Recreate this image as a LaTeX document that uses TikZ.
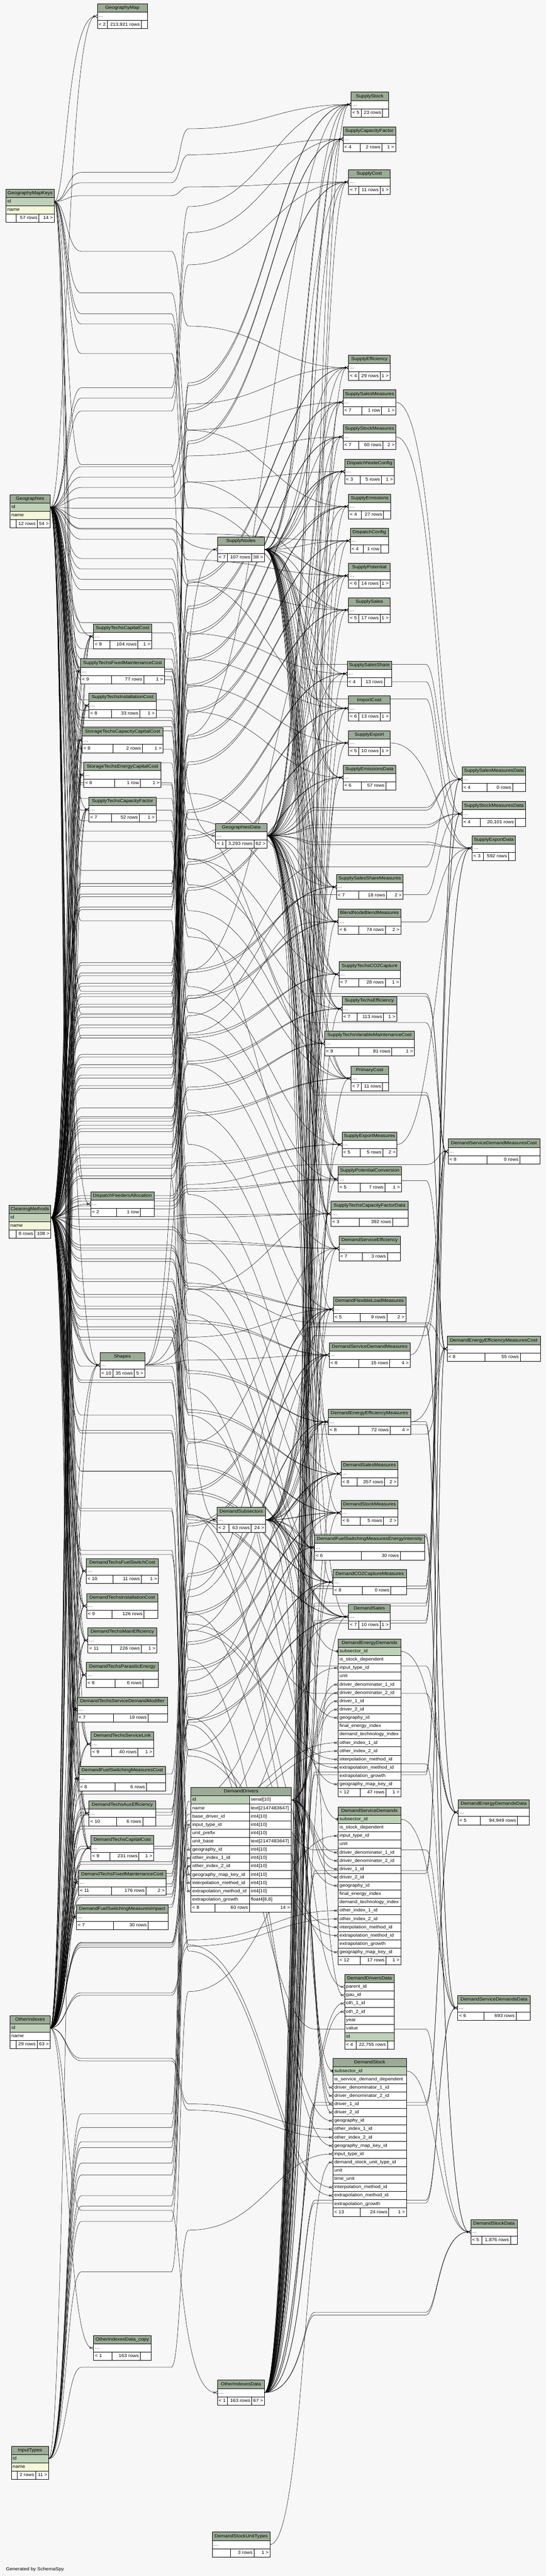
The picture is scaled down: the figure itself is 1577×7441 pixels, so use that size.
\documentclass[tikz,border=0pt]{standalone}
\usepackage{fontspec}
\setmainfont{Liberation Sans}
\usepackage{graphicx}
\usetikzlibrary{arrows.meta, calc}

\definecolor{hdrfill}{HTML}{9BAB96}
\definecolor{keyfill}{HTML}{BED1B8}
\definecolor{uqfill}{HTML}{F4F7DA}
\definecolor{bgfill}{HTML}{F7F7F7}

\pgfdeclarelayer{bg}
\pgfdeclarelayer{links}
\pgfsetlayers{bg,links,main}

% text in the cells is set a little wide like the dot output
\newcommand{\celltxt}[1]{\scalebox{1.1}[1]{#1}}
\newcommand{\more}{.\kern0.5pt.\kern0.5pt.}
\def\dbsplitsep#1/#2\relax{\def\dbsa{#1}\def\dbsb{#2}}
\def\dbsplitfoot#1/#2/#3\relax{\def\dbfa{#1}\def\dbfb{#2}\def\dbfc{#3}}

% footer: name, x0, x1, y, sep1/sep2, left/middle/right text
\newcommand{\dbfoot}[6]{%
  \dbsplitsep#5\relax
  \dbsplitfoot#6\relax
  \pgfmathsetmacro{\dbwa}{\dbsa-#2}%
  \pgfmathsetmacro{\dbwb}{\dbsb-\dbsa}%
  \pgfmathsetmacro{\dbwc}{#3-\dbsb}%
  \node[cell] (#1-fa) at (#2,#4) {\makebox[\dbwa pt][l]{\hspace{4pt}\celltxt{\dbfa}}};
  \node[cell] (#1-fb) at (\dbsa,#4) {\makebox[\dbwb pt][r]{\celltxt{\dbfb}\hspace{4pt}}};
  \node[cell] (#1-fc) at (\dbsb,#4) {\makebox[\dbwc pt][r]{\celltxt{\dbfc}\hspace{4pt}}};
}

% table: name, x0, x1, ytop, title, rows, number of rows, seps, footer
\newcommand{\dbtable}[9]{%
  \pgfmathsetmacro{\dbtw}{#3-#2}%
  \node[cell, fill=hdrfill, minimum width=\dbtw pt] (#1) at (#2,#4) {\makebox[0pt]{\celltxt{#5}}};
  \foreach \fc/\ft [count=\rowno] in {#6} {
    \node[cell, fill=\fc] (#1-\rowno) at (#2,#4+24*\rowno) {\makebox[\dbtw pt][l]{\hspace{4pt}\celltxt{\ft}}};
  }
  \pgfmathsetmacro{\dbfy}{#4+24*(#7+1)}%
  \dbfoot{#1}{#2}{#3}{\dbfy}{#8}{#9}%
}

% links, routed through the gaps between the columns
\newcommand{\edgeA}[3][192]{\draw[fk] let \p1=(#2), \p2=(#3) in
  (\p1) .. controls (#1pt,\y1) and (#1pt,\y2) .. (\p2);}
\newcommand{\edgeS}[4][]{\draw[fk,#1] let \p1=(#3), \p2=(#4) in
  (\p1) .. controls (#2pt,\y1) and (#2pt,\y2) .. (\p2);}
\newcommand{\edgeB}[3][0]{\draw[fk] let \p1=(#2), \p2=(#3), \p3=($(#2)!0.5!(#3)+(0,#1)$) in
  (\p1) .. controls (192pt,\y1) and (192pt,\y3) .. (235pt,\y3) -- (495pt,\y3)
  .. controls (520pt,\y3) and (520pt,\y2) .. (\p2);}
\newcommand{\edgeC}[3][0]{\draw[fk] let \p1=(#2), \p2=(#3), \p3=($(#2)!0.3!(#3)+(0,#1)$), \p4=($(#2)!0.75!(#3)+(0,#1)$) in
  (\p1) .. controls (192pt,\y1) and (192pt,\y3) .. (235pt,\y3) -- (495pt,\y3)
  .. controls (520pt,\y3) and (520pt,\y4) .. (545pt,\y4)
  .. controls (760pt,\y4) and (800pt,\y2) .. (\p2);}
\newcommand{\edgeD}[3][0]{\draw[fk] let \p1=(#2), \p2=(#3), \p3=($(#2)!0.25!(#3)+(0,#1)$), \p4=($(#2)!0.5!(#3)+(0,#1)$), \p5=($(#2)!0.8!(#3)+(0,#1)$) in
  (\p1) .. controls (192pt,\y1) and (192pt,\y3) .. (235pt,\y3) -- (495pt,\y3)
  .. controls (520pt,\y3) and (520pt,\y4) .. (545pt,\y4)
  .. controls (720pt,\y4) and (760pt,\y5) .. (910pt,\y5) -- (1230pt,\y5)
  .. controls (1265pt,\y5) and (1265pt,\y2) .. (\p2);}
\newcommand{\edgeE}[3][0]{\draw[fk] let \p1=(#2), \p2=(#3), \p3=($(#2)!0.5!(#3)+(0,#1)$) in
  (\p1) .. controls (875pt,\y1) and (875pt,\y3) .. (910pt,\y3) -- (1230pt,\y3)
  .. controls (1265pt,\y3) and (1265pt,\y2) .. (\p2);}
\newcommand{\edgeF}[3][0]{\draw[fk] let \p1=(#2), \p2=(#3), \p3=($(#2)!0.5!(#3)+(0,#1)$) in
  (\p1) .. controls (520pt,\y1) and (520pt,\y3) .. (545pt,\y3)
  .. controls (760pt,\y3) and (800pt,\y2) .. (\p2);}

\def\lefttabs{stcapc,stfmc,stinst,sttcap,steng,stcf,dtfsc,dtinst,dtmeff,dtpar,dtsdm,dtslink,dfsmc,dtaux,dtcap,dtfmc,dfsmi}
\def\midsupply{sstock,scapfac,scost,seff,ssalesm,sstockm,dispnode,semis,dispconf,spot,ssales,ssshare,importcost,sexport,semisdata,ssharem,blendm,sco2,steff,svarmc,primcost,sexpm,spotconv,scfdata,dseff}
\def\middemand{dflexm,dsdm,deem,dsalesm,dstockm,dfsmei,dco2m,dsales}
\def\rightdata{ssmdata,sstmdata,sexpdata,dsdmcost,deemcost,dendata,dsdata,dstdata}

\begin{document}
\begin{tikzpicture}[x=1pt, y=-1pt]

   %Styles of boxes and links
   \tikzstyle{cell} = [draw=black, line width=0.9pt, fill=white, inner sep=0pt, outer sep=0pt, anchor=north west, minimum height=24pt, text height=10pt, text depth=3pt, font=\fontsize{13}{15}\selectfont]
   \tikzstyle{fk} = [draw=black, line width=0.75pt, -{Circle[open,length=6pt,width=6pt] Straight Barb[reversed,length=5pt,width=9pt]}]
   \tikzstyle{fkbar} = [-{Circle[open,length=6pt,width=6pt] Bar[width=9pt,line width=1.6pt]}]

   \useasboundingbox (0,0) rectangle (1577,7441);
   \begin{pgfonlayer}{bg}
     \fill[bgfill] (0,0) rectangle (1577,7441);
   \end{pgfonlayer}

   %Boxes: first column
   \dbtable{geomapkeys}{17}{157}{546}{GeographyMapKeys}{keyfill/id, uqfill/name}{2}{46/112}{/57 rows/14 >}
   \dbtable{geographies}{29}{145}{1429}{Geographies}{keyfill/id, uqfill/name}{2}{46/107}{/12 rows/54 >}
   \dbtable{cleaning}{26}{147}{3481}{CleaningMethods}{keyfill/id, uqfill/name}{2}{46/100}{/8 rows/108 >}
   \dbtable{otheridx}{29}{145}{5822}{OtherIndexes}{keyfill/id, white/name}{2}{46/107}{/29 rows/63 >}
   \dbtable{inputtypes}{32.7}{140.6}{7066}{InputTypes}{keyfill/id, uqfill/name}{2}{50/102.8}{/2 rows/11 >}

   %Boxes: second column
   \dbtable{geomap}{281}{426}{11}{GeographyMap}{white/\more}{1}{310/408}{< 2/213,921 rows/}
   \dbtable{stcapc}{270}{438}{1802}{SupplyTechsCapitalCost}{white/\more}{1}{318/398.5}{< 9/104 rows/1 >}
   \dbtable{stfmc}{233}{475}{1903}{SupplyTechsFixedMaintenanceCost}{white/\more}{1}{322/415}{< 9/77 rows/1 >}
   \dbtable{stinst}{257}{451}{2002}{SupplyTechsInstallationCost}{white/\more}{1}{322/403.5}{< 8/33 rows/1 >}
   \dbtable{sttcap}{237}{471}{2102}{StorageTechsCapacityCapitalCost}{white/\more}{1}{326.5/411}{< 8/2 rows/1 >}
   \dbtable{steng}{242}{465.5}{2202}{StorageTechsEnergyCapitalCost}{white/\more}{1}{330.5/405.5}{< 8/1 row/1 >}
   \dbtable{stcf}{257}{451}{2302}{SupplyTechsCapacityFactor}{white/\more}{1}{322/402.5}{< 7/52 rows/1 >}
   \dbtable{dfeed}{262}{445}{3442}{DispatchFeedersAllocation}{white/\more}{1}{336.5/405.5}{< 2/1 row/}
   \dbtable{shapes}{289}{418}{3907}{Shapes}{white/\more}{1}{326.5/388}{< 10/35 rows/5 >}
   \dbtable{dtfsc}{249}{458}{4502}{DemandTechsFuelSwitchCost}{white/\more}{1}{326.5/408}{< 10/11 rows/1 >}
   \dbtable{dtinst}{250}{456}{4603}{DemandTechsInstallationCost}{white/\more}{1}{324/416}{< 9/126 rows/}
   \dbtable{dtmeff}{254}{453}{4702}{DemandTechsMainEfficiency}{white/\more}{1}{322/408}{< 11/226 rows/1 >}
   \dbtable{dtpar}{249}{458}{4802}{DemandTechsParasiticEnergy}{white/\more}{1}{333/413}{< 8/6 rows/}
   \dbtable{dtsdm}{223}{484}{4902}{DemandTechsServiceDemandModifier}{white/\more}{1}{328/427.7}{< 7/19 rows/}
   \dbtable{dtslink}{262.5}{444}{5002}{DemandTechsServiceLink}{white/\more}{1}{322/398.5}{< 9/40 rows/1 >}
   \dbtable{dfsmc}{227.7}{478.6}{5102}{DemandFuelSwitchingMeasuresCost}{white/\more}{1}{332/423}{< 8/6 rows/}
   \dbtable{dtaux}{257}{450}{5202}{DemandTechsAuxEfficiency}{white/\more}{1}{337/412}{< 10/6 rows/}
   \dbtable{dtcap}{262.5}{444}{5302}{DemandTechsCapitalCost}{white/\more}{1}{318/401.5}{< 9/231 rows/1 >}
   \dbtable{dtfmc}{226.7}{480}{5402}{DemandTechsFixedMaintenanceCost}{white/\more}{1}{322/421.7}{< 11/176 rows/2 >}
   \dbtable{dfsmi}{221}{485}{5502}{DemandFuelSwitchingMeasuresImpact}{white/\more}{1}{328/427.7}{< 7/30 rows/}
   \dbtable{oxdcopy}{270.5}{435.8}{6746}{OtherIndexesData\_copy}{white/\more}{1}{324/405}{< 1/163 rows/}

   %Boxes: third column
   \dbtable{supplynodes}{628}{764}{1551}{SupplyNodes}{white/\more}{1}{657/727}{< 7/107 rows/38 >}
   \dbtable{geodata}{623}{771}{2378}{GeographiesData}{white/\more}{1}{652/733.5}{< 1/3,293 rows/62 >}
   \dbtable{subsectors}{627}{767}{4354}{DemandSubsectors}{white/\more}{1}{661.5/725.5}{< 2/63 rows/24 >}
   \dbtable{otheridxdata}{628}{764}{6875}{OtherIndexesData}{white/\more}{1}{657/727}{< 1/163 rows/67 >}
   \dbtable{stockunits}{613.6}{780}{7314}{DemandStockUnitTypes}{white/\more}{1}{665/733.5}{/3 rows/1 >}
   \node[cell, fill=hdrfill, minimum width=290.4pt] (drivers) at (551.6,5163) {\makebox[0pt]{\celltxt{DemandDrivers}}};
   \foreach \fc/\ft/\fd [count=\rowno] in {keyfill/id/serial[10], white/name/text[2147483647], white/base\_driver\_id/int4[10], white/input\_type\_id/int4[10], white/unit\_prefix/int4[10], white/unit\_base/text[2147483647], white/geography\_id/int4[10], white/other\_index\_1\_id/int4[10], white/other\_index\_2\_id/int4[10], white/geography\_map\_key\_id/int4[10], white/interpolation\_method\_id/int4[10], white/extrapolation\_method\_id/int4[10], white/extrapolation\_growth/{float4[8,8]}} {
     \node[cell, fill=\fc] (drivers-\rowno) at (551.6,5163+24*\rowno) {\makebox[168.8pt][l]{\hspace{4pt}\celltxt{\ft}}};
     \node[cell] (drivers-t\rowno) at (720.4,5163+24*\rowno) {\makebox[121.6pt][l]{\hspace{4pt}\celltxt{\fd}}};
   }
   \dbfoot{drivers}{551.6}{842}{5499}{620.7/720.4}{< 8/60 rows/14 >}

   %Boxes: fourth column
   \dbtable{sstock}{1014}{1122}{266}{SupplyStock}{white/\more}{1}{1043.5/1105}{< 5/23 rows/}
   \dbtable{scapfac}{991}{1143}{366}{SupplyCapacityFactor}{white/\more}{1}{1040.5/1103}{< 4/2 rows/1 >}
   \dbtable{scost}{1007}{1127}{490}{SupplyCost}{white/\more}{1}{1036.5/1098}{< 7/11 rows/1 >}
   \dbtable{seff}{1007}{1127}{1026}{SupplyEfficiency}{white/\more}{1}{1036.5/1098}{< 4/29 rows/1 >}
   \dbtable{ssalesm}{991}{1144}{1126}{SupplySalesMeasures}{white/\more}{1}{1044.5/1102}{< 7/1 row/1 >}
   \dbtable{sstockm}{991}{1144}{1226}{SupplyStockMeasures}{white/\more}{1}{1036.5/1106}{< 7/60 rows/2 >}
   \dbtable{dispnode}{996}{1139}{1326}{DispatchNodeConfig}{white/\more}{1}{1040.5/1102}{< 3/5 rows/1 >}
   \dbtable{semis}{1007}{1129}{1427}{SupplyEmissions}{white/\more}{1}{1043.5/1108}{< 4/27 rows/}
   \dbtable{dispconf}{1012}{1122}{1526}{DispatchConfig}{white/\more}{1}{1049.5/1100}{< 4/1 row/}
   \dbtable{spot}{1007}{1127}{1627}{SupplyPotential}{white/\more}{1}{1036.5/1098}{< 6/14 rows/1 >}
   \dbtable{ssales}{1007}{1127}{1726}{SupplySales}{white/\more}{1}{1036.5/1098}{< 5/17 rows/1 >}
   \dbtable{ssshare}{1003}{1132}{1910}{SupplySalesShare}{white/\more}{1}{1043.5/1110}{< 4/13 rows/}
   \dbtable{importcost}{1007}{1127}{2010}{ImportCost}{white/\more}{1}{1036.5/1098}{< 6/13 rows/1 >}
   \dbtable{sexport}{1007}{1127}{2110}{SupplyExport}{white/\more}{1}{1036.5/1098}{< 5/10 rows/1 >}
   \dbtable{semisdata}{991}{1144}{2210}{SupplyEmissionsData}{white/\more}{1}{1043.5/1115}{< 6/57 rows/}
   \dbtable{ssharem}{972}{1164.5}{2526}{SupplySalesShareMeasures}{white/\more}{1}{1036.5/1117}{< 7/18 rows/2 >}
   \dbtable{blendm}{977}{1158}{2626}{BlendNodeBlendMeasures}{white/\more}{1}{1036.5/1113}{< 6/74 rows/2 >}
   \dbtable{sco2}{979}{1157}{2778}{SupplyTechsCO2Capture}{white/\more}{1}{1036.5/1113}{< 7/28 rows/1 >}
   \dbtable{steff}{988}{1146}{2878}{SupplyTechsEfficiency}{white/\more}{1}{1032.5/1108}{< 7/113 rows/1 >}
   \dbtable{svarmc}{938}{1197}{2978}{SupplyTechsVariableMaintenanceCost}{white/\more}{1}{1036.5/1132}{< 9/81 rows/1 >}
   \dbtable{primcost}{1014}{1122}{3079}{PrimaryCost}{white/\more}{1}{1043.5/1105}{< 7/11 rows/}
   \dbtable{sexpm}{988}{1147}{3270}{SupplyExportMeasures}{white/\more}{1}{1040.5/1106}{< 5/5 rows/2 >}
   \dbtable{spotconv}{977}{1159.5}{3370}{SupplyPotentialConversion}{white/\more}{1}{1040.5/1112}{< 5/7 rows/1 >}
   \dbtable{scfdata}{956}{1179}{3470}{SupplyTechsCapacityFactorData}{white/\more}{1}{1037.5/1134}{< 3/392 rows/}
   \dbtable{dseff}{979}{1156.5}{3570}{DemandServiceEfficiency}{white/\more}{1}{1047/1119}{< 7/3 rows/}
   \dbtable{dflexm}{963}{1172.5}{3746}{DemandFlexibleLoadMeasures}{white/\more}{1}{1040.5/1118}{< 5/9 rows/2 >}
   \dbtable{dsdm}{951}{1185}{3878}{DemandServiceDemandMeasures}{white/\more}{1}{1036.5/1126}{< 8/15 rows/4 >}
   \dbtable{deem}{948.6}{1186}{4071}{DemandEnergyEfficiencyMeasures}{white/\more}{1}{1036.5/1127}{< 8/72 rows/4 >}
   \dbtable{dsalesm}{985}{1150}{4221}{DemandSalesMeasures}{white/\more}{1}{1032.5/1111}{< 8/357 rows/2 >}
   \dbtable{dstockm}{985}{1150}{4334}{DemandStockMeasures}{white/\more}{1}{1040.5/1108}{< 6/5 rows/2 >}
   \dbtable{dfsmei}{908.5}{1227}{4434}{DemandFuelSwitchingMeasuresEnergyIntensity}{white/\more}{1}{1043.5/1156.5}{< 6/30 rows/}
   \dbtable{dco2m}{962}{1174}{4534}{DemandCO2CaptureMeasures}{white/\more}{1}{1047/1129}{< 8/0 rows/}
   \dbtable{dsales}{1007}{1127}{4634}{DemandSales}{white/\more}{1}{1036.5/1098}{< 7/10 rows/1 >}
   \dbtable{denergy}{977}{1158}{4734}{DemandEnergyDemands}{keyfill/subsector\_id, white/is\_stock\_dependent, white/input\_type\_id, white/unit, white/driver\_denominator\_1\_id, white/driver\_denominator\_2\_id, white/driver\_1\_id, white/driver\_2\_id, white/geography\_id, white/final\_energy\_index, white/demand\_technology\_index, white/other\_index\_1\_id, white/other\_index\_2\_id, white/interpolation\_method\_id, white/extrapolation\_method\_id, white/extrapolation\_growth, white/geography\_map\_key\_id}{17}{1040.5/1115}{< 12/47 rows/1 >}
   \dbtable{dservice}{977}{1158}{5219}{DemandServiceDemands}{keyfill/subsector\_id, white/is\_stock\_dependent, white/input\_type\_id, white/unit, white/driver\_denominator\_1\_id, white/driver\_denominator\_2\_id, white/driver\_1\_id, white/driver\_2\_id, white/geography\_id, white/final\_energy\_index, white/demand\_technology\_index, white/other\_index\_1\_id, white/other\_index\_2\_id, white/interpolation\_method\_id, white/extrapolation\_method\_id, white/extrapolation\_growth, white/geography\_map\_key\_id}{17}{1040.5/1115}{< 12/17 rows/1 >}
   \dbtable{ddrvdata}{996}{1139}{5703}{DemandDriversData}{white/parent\_id, white/gau\_id, white/oth\_1\_id, white/oth\_2\_id, white/year, white/value, keyfill/id}{7}{1029/1119}{< 4/22,755 rows/}
   \dbtable{dstock}{962}{1174}{5946}{DemandStock}{keyfill/subsector\_id, white/is\_service\_demand\_dependent, white/driver\_denominator\_1\_id, white/driver\_denominator\_2\_id, white/driver\_1\_id, white/driver\_2\_id, white/geography\_id, white/other\_index\_1\_id, white/other\_index\_2\_id, white/geography\_map\_key\_id, white/input\_type\_id, white/demand\_stock\_unit\_type\_id, white/unit, white/time\_unit, white/interpolation\_method\_id, white/extrapolation\_method\_id, white/extrapolation\_growth}{17}{1040.5/1123}{< 13/24 rows/1 >}

   %Boxes: fifth column
   \dbtable{ssmdata}{1335}{1519}{2215}{SupplySalesMeasuresData}{white/\more}{1}{1406.5/1481}{< 4/0 rows/}
   \dbtable{sstmdata}{1335}{1519}{2315}{SupplyStockMeasuresData}{white/\more}{1}{1387.5/1489}{< 4/20,101 rows/}
   \dbtable{sexpdata}{1364}{1489}{2414}{SupplyExportData}{white/\more}{1}{1397/1469}{< 3/592 rows/}
   \dbtable{dsdmcost}{1294.5}{1559.5}{3290}{DemandServiceDemandMeasuresCost}{white/\more}{1}{1406.5/1502}{< 8/0 rows/}
   \dbtable{deemcost}{1291.5}{1561}{3860}{DemandEnergyEfficiencyMeasuresCost}{white/\more}{1}{1401/1503}{< 8/55 rows/}
   \dbtable{dendata}{1323.6}{1529}{5199}{DemandEnergyDemandsData}{white/\more}{1}{1388/1495}{< 5/94,949 rows/}
   \dbtable{dsdata}{1322.6}{1532}{5764}{DemandServiceDemandsData}{white/\more}{1}{1398.5/1491}{< 6/693 rows/}
   \dbtable{dstdata}{1360}{1494}{6411}{DemandStockData}{white/\more}{1}{1391.4/1474.7}{< 5/1,876 rows/}

   \node[anchor=base west, inner sep=0pt, font=\fontsize{13}{15}\selectfont] (generated) at (17,7425) {\celltxt{Generated by SchemaSpy}};

   %Links
   \begin{pgfonlayer}{links}
   % GeographyMapKeys
   \edgeA{geomapkeys-1.east}{geomap-1.west}
   \foreach \tbl in {sstock,scapfac,scost,seff,semis,spot,ssales,importcost,primcost} {\edgeC{geomapkeys-1.east}{\tbl-1.west}}
   \foreach \rw in {denergy-17,dservice-17,dstock-10} {\edgeC{geomapkeys-1.east}{\rw.west}}
   \edgeB{geomapkeys-1.east}{drivers-10.west}
   % Geographies
   \foreach \tbl in \lefttabs {\edgeA{geographies-1.east}{\tbl-1.west}}
   \foreach \tbl in {geomap,dfeed,shapes} {\edgeA{geographies-1.east}{\tbl-1.west}}
   \foreach \rw in {geodata-1,supplynodes-1,subsectors-1,drivers-7} {\edgeB{geographies-1.east}{\rw.west}}
   \foreach \tbl in \midsupply {\edgeC[4]{geographies-1.east}{\tbl-1.west}}
   \foreach \tbl in \middemand {\edgeC[4]{geographies-1.east}{\tbl-1.west}}
   \foreach \rw in {denergy-9,dservice-9,dstock-7} {\edgeC{geographies-1.east}{\rw.west}}
   \foreach \tbl in {dsdmcost,deemcost} {\edgeD{geographies-1.east}{\tbl-1.west}}
   % CleaningMethods
   \foreach \tbl in \lefttabs {\edgeA{cleaning-1.east}{\tbl-1.west}\edgeA[200]{cleaning-1.east}{\tbl-1.west}}
   \edgeA{cleaning-1.east}{dfeed-1.west}
   \edgeA{cleaning-1.east}{shapes-1.west}\edgeA[200]{cleaning-1.east}{shapes-1.west}
   \foreach \tbl in \midsupply {\edgeC{cleaning-1.east}{\tbl-1.west}\edgeC[8]{cleaning-1.east}{\tbl-1.west}}
   \foreach \tbl in \middemand {\edgeC{cleaning-1.east}{\tbl-1.west}\edgeC[8]{cleaning-1.east}{\tbl-1.west}}
   \foreach \rw in {denergy-14,denergy-15,dservice-14,dservice-15,dstock-15,dstock-16} {\edgeC{cleaning-1.east}{\rw.west}}
   \foreach \rw in {drivers-11,drivers-12,supplynodes-1} {\edgeB{cleaning-1.east}{\rw.west}}
   \foreach \tbl in \rightdata {\edgeD{cleaning-1.east}{\tbl-1.west}}
   % OtherIndexes
   \foreach \tbl in \lefttabs {\edgeA{otheridx-1.east}{\tbl-1.west}\edgeA[200]{otheridx-1.east}{\tbl-1.west}}
   \foreach \tbl in {shapes,oxdcopy} {\edgeA{otheridx-1.east}{\tbl-1.west}}
   \foreach \rw in {otheridxdata-1,subsectors-1,drivers-8,drivers-9} {\edgeB{otheridx-1.east}{\rw.west}}
   \foreach \tbl in \middemand {\edgeC{otheridx-1.east}{\tbl-1.west}\edgeC[8]{otheridx-1.east}{\tbl-1.west}}
   \foreach \rw in {denergy-12,denergy-13,dservice-12,dservice-13,dstock-8,dstock-9,dseff-1} {\edgeC{otheridx-1.east}{\rw.west}}
   \edgeD{otheridx-1.east}{dsdmcost-1.west}
   % InputTypes
   \foreach \rw in {denergy-3,dservice-3,dstock-11,dsales-1,dsalesm-1,dstockm-1,dsdm-1,deem-1,dflexm-1,dco2m-1} {\edgeC{inputtypes-1.east}{\rw.west}}
   \edgeB{inputtypes-1.east}{drivers-4.west}
   \edgeA{inputtypes-1.east}{shapes-1.west}
   % SupplyNodes
   \foreach \tbl in \midsupply {\edgeS{880}{supplynodes-1.east}{\tbl-1.west}}
   \foreach \tbl in {blendm,ssharem,spotconv,sexpm,dispnode,scfdata,semisdata,primcost,steff,sco2} {\edgeS{868}{supplynodes-1.east}{\tbl-1.west}}
   \foreach \tbl in {ssmdata,sstmdata,sexpdata} {\edgeE{supplynodes-1.east}{\tbl-1.west}}
   % GeographiesData
   \foreach \tbl in \midsupply {\edgeS{886}{geodata-1.east}{\tbl-1.west}}
   \foreach \tbl in \middemand {\edgeS{886}{geodata-1.east}{\tbl-1.west}}
   \edgeS{886}{geodata-1.east}{ddrvdata-2.west}
   \foreach \tbl in \rightdata {\edgeE{geodata-1.east}{\tbl-1.west}\edgeE[8]{geodata-1.east}{\tbl-1.west}}
   % DemandSubsectors
   \foreach \tbl in \middemand {\edgeS{872}{subsectors-1.east}{\tbl-1.west}\edgeS{864}{subsectors-1.east}{\tbl-1.west}}
   \foreach \rw in {denergy-1,dservice-1,dstock-1} {\edgeS[fkbar]{872}{subsectors-1.east}{\rw.west}}
   \edgeS{872}{subsectors-1.east}{dseff-1.west}
   \foreach \tbl in {dsdmcost,deemcost,dendata,dsdata} {\edgeE{subsectors-1.east}{\tbl-1.west}}
   % DemandDrivers
   \foreach \rw in {5,6,7,8} {\edgeS{905}{drivers-t1.east}{denergy-\rw.west}\edgeS{905}{drivers-t1.east}{dservice-\rw.west}}
   \foreach \rw in {3,4,5,6} {\edgeS{905}{drivers-t1.east}{dstock-\rw.west}}
   \edgeS{905}{drivers-t1.east}{ddrvdata-1.west}
   % OtherIndexesData
   \foreach \tbl in \midsupply {\edgeS{878}{otheridxdata-1.east}{\tbl-1.west}}
   \foreach \tbl in \middemand {\edgeS{878}{otheridxdata-1.east}{\tbl-1.west}}
   \foreach \rw in {ddrvdata-3,ddrvdata-4} {\edgeS{878}{otheridxdata-1.east}{\rw.west}}
   \foreach \tbl in \rightdata {\edgeE{otheridxdata-1.east}{\tbl-1.west}\edgeE[8]{otheridxdata-1.east}{\tbl-1.west}}
   % Shapes and DemandStockUnitTypes
   \foreach \tbl in {scfdata,sstock,spot,dflexm,dsdm} {\edgeF{shapes-1.east}{\tbl-1.west}}
   \edgeS{880}{stockunits-1.east}{dstock-12.west}
   % measures to their data
   \foreach \pa/\ch in {ssalesm/ssmdata,sstockm/sstmdata,sexport/sexpdata,sexpm/sexpdata,dsdm/dsdmcost,deem/deemcost,denergy/dendata,dservice/dsdata,dstock/dstdata} {\edgeS{1262}{\pa-1.east}{\ch-1.west}}
   \end{pgfonlayer}

\end{tikzpicture}
\end{document}
